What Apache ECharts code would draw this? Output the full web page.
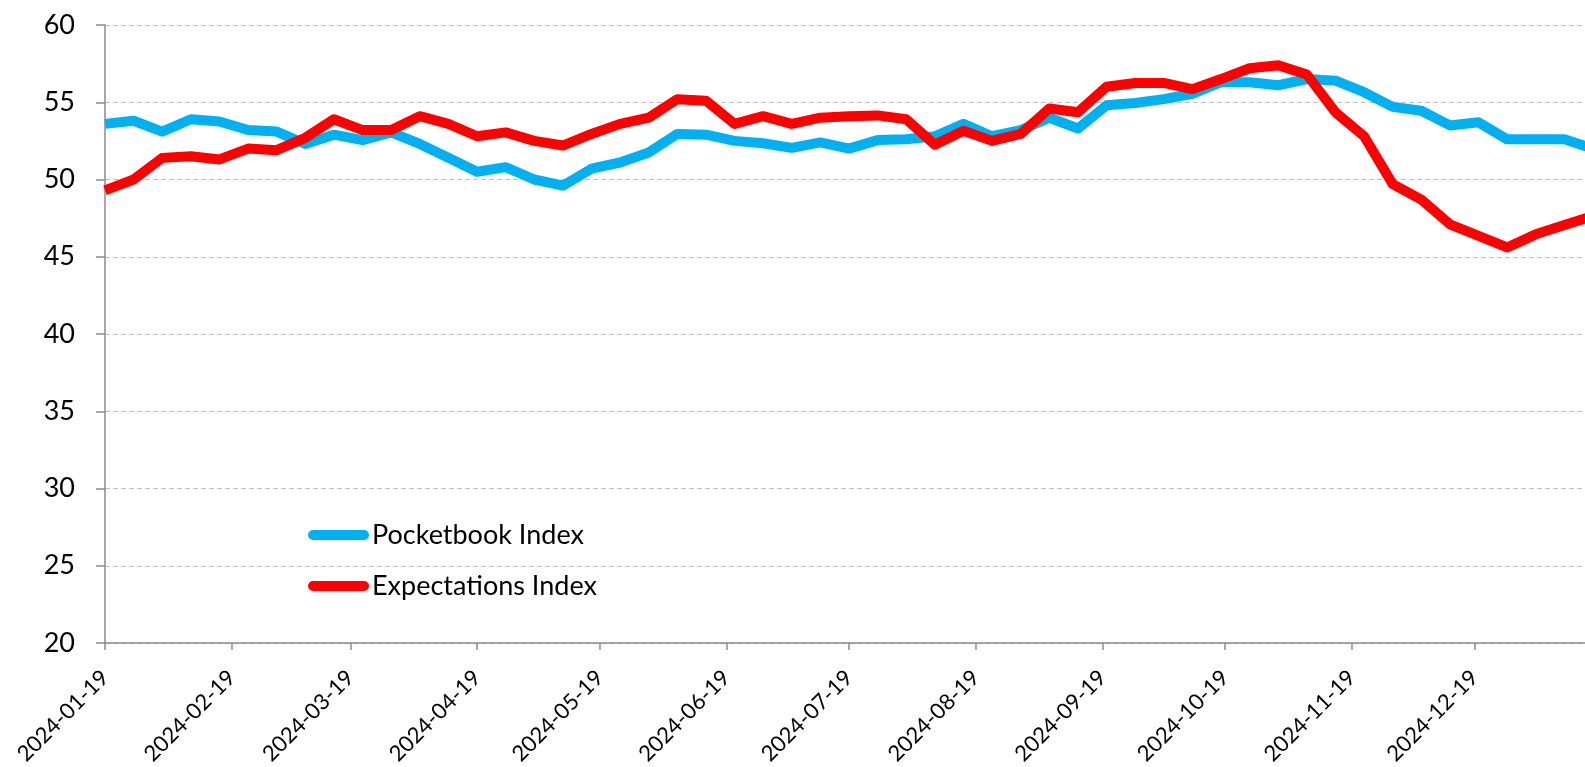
<!DOCTYPE html>
<html>
<head>
<meta charset="utf-8">
<title>Pocketbook and Expectations Index</title>
<script src="https://cdn.jsdelivr.net/npm/echarts@6/dist/echarts.min.js"></script>
<style>
  html, body { margin: 0; padding: 0; background: #fff; }
  #chart { width: 1585px; height: 767px; }
</style>
</head>
<body>
<div id="chart"></div>
<script>
// weekly survey dates
var weeks = [
  '2024-01-19', '2024-01-26', '2024-02-02', '2024-02-09', '2024-02-16', '2024-02-23',
  '2024-03-01', '2024-03-08', '2024-03-15', '2024-03-22', '2024-03-29', '2024-04-05',
  '2024-04-12', '2024-04-19', '2024-04-26', '2024-05-03', '2024-05-10', '2024-05-17',
  '2024-05-24', '2024-05-31', '2024-06-07', '2024-06-14', '2024-06-21', '2024-06-28',
  '2024-07-05', '2024-07-12', '2024-07-19', '2024-07-26', '2024-08-02', '2024-08-09',
  '2024-08-16', '2024-08-23', '2024-08-30', '2024-09-06', '2024-09-13', '2024-09-20',
  '2024-09-27', '2024-10-04', '2024-10-11', '2024-10-18', '2024-10-25', '2024-11-01',
  '2024-11-08', '2024-11-15', '2024-11-22', '2024-11-29', '2024-12-06', '2024-12-13',
  '2024-12-20', '2024-12-27', '2025-01-03', '2025-01-10', '2025-01-17'
];

var pocketbook = [
  53.6, 53.8, 53.1, 53.9, 53.75, 53.2,
  53.1, 52.3, 52.9, 52.55, 53.05, 52.3,
  51.4, 50.5, 50.8, 50.0, 49.6, 50.7,
  51.1, 51.75, 52.95, 52.9, 52.5, 52.35,
  52.05, 52.4, 52.0, 52.55, 52.6, 52.8,
  53.6, 52.8, 53.2, 54.0, 53.3, 54.8,
  54.95, 55.2, 55.55, 56.3, 56.3, 56.1,
  56.5, 56.4, 55.65, 54.7, 54.45, 53.5,
  53.7, 52.6, 52.6, 52.6, 52.0
];

var expectations = [
  49.3, 50.0, 51.4, 51.5, 51.3, 52.0,
  51.9, 52.7, 53.9, 53.2, 53.2, 54.1,
  53.6, 52.8, 53.05, 52.5, 52.2, 52.95,
  53.6, 54.0, 55.2, 55.1, 53.6, 54.1,
  53.6, 54.0, 54.1, 54.15, 53.9, 52.25,
  53.15, 52.5, 52.95, 54.6, 54.35, 56.0,
  56.25, 56.25, 55.85, 56.5, 57.2, 57.4,
  56.8, 54.35, 52.8, 49.7, 48.7, 47.1,
  46.35, 45.6, 46.45, 47.05, 47.65
];

// monthly tick labels on the x axis
var tickDates = [
  '2024-01-19', '2024-02-19', '2024-03-19', '2024-04-19', '2024-05-19', '2024-06-19',
  '2024-07-19', '2024-08-19', '2024-09-19', '2024-10-19', '2024-11-19', '2024-12-19'
];

// dates are placed on a numeric axis counted in days from the first week
var DAY = 86400000;
var origin = Date.UTC(2024, 0, 19);

function toDay(s) {
  var p = s.split('-');
  return Math.round((Date.UTC(+p[0], +p[1] - 1, +p[2]) - origin) / DAY);
}

function dayLabel(day) {
  var d = new Date(origin + day * DAY);
  var m = d.getUTCMonth() + 1;
  var dd = d.getUTCDate();
  return d.getUTCFullYear() + '-' + (m < 10 ? '0' + m : m) + '-' + (dd < 10 ? '0' + dd : dd);
}

function pairs(values) {
  return weeks.map(function (d, i) {
    return [toDay(d), values[i]];
  });
}

var tickDays = tickDates.map(toDay);
var fontFamily = 'Lato';
var gray = '#8c8c8c';

var chart = echarts.init(document.getElementById('chart'));
chart.setOption({
  animation: false,
  grid: {
    left: 105,
    right: -8,
    top: 25,
    bottom: 124,
    outerBoundsMode: 'none'
  },
  legend: {
    orient: 'vertical',
    left: 303,
    top: 515,
    itemWidth: 61,
    itemHeight: 10,
    itemGap: 21,
    icon: 'path://M5,0 H56 A5,5 0 0 1 56,10 H5 A5,5 0 0 1 5,0 Z',
    textStyle: {
      fontFamily: fontFamily,
      fontSize: 27,
      lineHeight: 30,
      color: '#000',
      padding: [0, 0, 0, -2]
    },
    data: ['Pocketbook Index', 'Expectations Index']
  },
  xAxis: {
    type: 'value',
    min: toDay(weeks[0]),
    max: toDay(weeks[weeks.length - 1]),
    axisLine: { show: true, onZero: false, lineStyle: { color: gray, width: 1.5 } },
    axisTick: {
      show: true,
      length: 7,
      customValues: tickDays,
      lineStyle: { color: gray, width: 1.5 }
    },
    axisLabel: {
      customValues: tickDays,
      rotate: 45,
      margin: 31,
      fontFamily: fontFamily,
      fontSize: 22,
      color: '#000',
      formatter: function (value) {
        return dayLabel(value);
      }
    },
    splitLine: { show: false }
  },
  yAxis: {
    type: 'value',
    min: 20,
    max: 60,
    interval: 5,
    axisLine: { show: true, lineStyle: { color: gray, width: 1.5 } },
    axisTick: { show: true, length: 9, lineStyle: { color: gray, width: 1.5 } },
    axisLabel: {
      margin: 30,
      fontFamily: fontFamily,
      fontSize: 27,
      color: '#000'
    },
    splitLine: {
      lineStyle: { color: '#c0c0c0', type: [5, 3], width: 1.2 }
    }
  },
  series: [
    {
      name: 'Pocketbook Index',
      type: 'line',
      data: pairs(pocketbook),
      showSymbol: false,
      itemStyle: { color: '#00b0f0' },
      lineStyle: { color: '#00b0f0', width: 10, join: 'round' }
    },
    {
      name: 'Expectations Index',
      type: 'line',
      data: pairs(expectations),
      showSymbol: false,
      itemStyle: { color: '#ff0000' },
      lineStyle: { color: '#ff0000', width: 10, join: 'round' }
    }
  ]
});
</script>
</body>
</html>
